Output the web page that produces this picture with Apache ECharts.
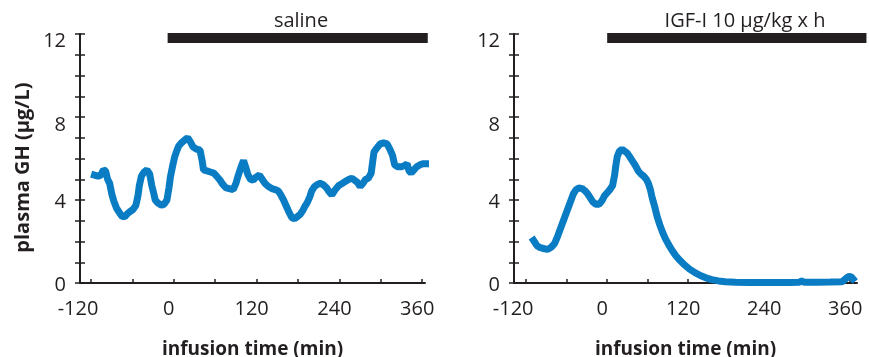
<!DOCTYPE html>
<html><head><meta charset="utf-8">
<script src="https://cdn.jsdelivr.net/npm/echarts@6/dist/echarts.min.js"></script>
<style>html,body{margin:0;padding:0;background:#fff}#c{width:869px;height:357px}</style>
</head><body><div id="c"></div>
<script>
// ---- data ----
const salineTime = [-115,-110,-106,-102,-99,-96,-93,-90,-87,-83,-79,-75,-71,-67,-63,-59,-55,-52,-50,-47,-43,-39,-35,-32,-29,-27,-23,-18,-14,-10,-7,-5,-2,1,4,7,11,16,20,24,28,33,38,41,43,48,53,58,62,67,71,75,80,86,90,93,97,101,104,107,111,115,119,124,128,132,137,142,147,151,155,159,163,167,171,175,179,183,187,190,193,197,200,204,208,212,216,221,225,229,234,239,244,249,254,258,262,266,270,274,278,282,286,288,290,294,299,304,309,313,317,320,324,329,334,338,341,344,348,352,357,362,365];
const salineGH = [5.2,5.15,5.2,5.45,5.4,5.0,4.8,4.3,3.95,3.6,3.4,3.2,3.2,3.35,3.45,3.55,3.75,4.2,4.7,5.15,5.35,5.45,5.25,4.7,4.3,4.0,3.85,3.75,3.8,4.0,4.6,5.1,5.6,6.05,6.35,6.6,6.75,6.9,7.0,6.8,6.55,6.45,6.4,5.9,5.45,5.4,5.35,5.3,5.15,4.95,4.75,4.6,4.55,4.5,4.8,5.15,5.55,5.9,5.6,5.25,5.0,4.95,5.1,5.2,5.0,4.8,4.65,4.55,4.5,4.45,4.25,4.0,3.7,3.4,3.15,3.1,3.2,3.3,3.5,3.7,3.85,4.15,4.45,4.65,4.75,4.8,4.75,4.6,4.4,4.25,4.5,4.7,4.8,4.9,5.0,5.05,4.95,4.85,4.65,4.8,5.0,5.05,5.3,5.8,6.3,6.5,6.7,6.75,6.7,6.45,6.15,5.7,5.6,5.6,5.65,5.75,5.4,5.3,5.45,5.6,5.7,5.75,5.75];
const igfTime = [-109,-104,-99,-93,-88,-83,-78,-74,-70,-66,-62,-58,-54,-50,-46,-42,-37,-33,-29,-25,-21,-17,-12,-8,-4,0,4,8,11,13,15,18,22,26,30,34,38,42,46,50,54,58,61,64,66,68,71,74,78,82,86,91,96,102,108,115,122,130,138,146,155,165,175,190,210,230,250,270,284,288,292,310,330,348,353,357,361,364];
const igfGH = [2.05,1.8,1.7,1.65,1.62,1.72,1.9,2.2,2.55,2.9,3.25,3.6,3.95,4.3,4.5,4.58,4.55,4.45,4.3,4.1,3.9,3.8,3.8,3.95,4.2,4.35,4.5,4.7,5.2,5.7,6.1,6.35,6.45,6.35,6.25,6.05,5.85,5.65,5.4,5.25,5.15,5.0,4.8,4.5,4.2,3.95,3.6,3.2,2.8,2.45,2.15,1.85,1.58,1.3,1.08,0.86,0.67,0.5,0.36,0.25,0.16,0.1,0.06,0.04,0.03,0.03,0.03,0.03,0.04,0.09,0.04,0.04,0.05,0.06,0.2,0.3,0.32,0.2];
const xTickValues = [-120,-60,0,60,120,180,240,300,360];
const xLabelValues = [-120,0,120,240,360];
const yLabelValues = [0,4,8,12];
const panelTitles = ['saline','IGF-I 10 µg/kg x h'];
const salineBar = [-9, 368];
const igfBar = [0, 384];
const barLevel = [11.57, 12.05];
const xAxisName = 'infusion time (min)';
const yAxisName = 'plasma GH (µg/L)';

// ---- chart ----
const FONT = "'Open Sans',sans-serif";
const INK = '#231f20';
const BLUE = '#0a7cc4';
const chart = echarts.init(document.getElementById('c'), null, {renderer:'canvas'});

const zip = (a,b) => a.map((t,i)=>[t,b[i]]);

function xAxis(grid, min, max) {
  return {
    type:'value', gridIndex:grid, min:min, max:max,
    name:xAxisName, nameLocation:'middle', nameGap:57,
    nameTextStyle:{fontFamily:FONT, fontSize:19, fontWeight:'bold', color:INK},
    axisLine:{show:true, onZero:false, lineStyle:{color:INK, width:2}},
    axisTick:{show:true, inside:true, length:4, customValues:xTickValues, lineStyle:{color:INK, width:1.5}},
    axisLabel:{show:true, customValues:xLabelValues, margin:16,
      fontFamily:FONT, fontSize:20, color:INK,
      formatter: v => (v === -120 ? '{f|' + v + '}' : '{n|' + v + '}'),
      rich:{
        f:{fontFamily:FONT, fontSize:20, color:INK, padding:[0,26,0,0]},
        n:{fontFamily:FONT, fontSize:20, color:INK, padding:[0,10,0,0]}
      }},
    splitLine:{show:false}
  };
}
const yShift = {0:4, 4:4, 8:16, 12:14};
function yAxisMain(grid, withName) {
  return {
    type:'value', gridIndex:grid, min:0, max:12, interval:1, position:'left',
    name: withName ? yAxisName : '', nameLocation:'middle', nameGap:47,
    nameTextStyle:{fontFamily:FONT, fontSize:20, fontWeight:'bold', color:INK, padding:[0,18,0,0]},
    axisLine:{show:true, onZero:false, lineStyle:{color:INK, width:2}},
    axisTick:{show:true, inside:false, length:5, lineStyle:{color:INK, width:1.5}},
    axisLabel:{show:true, customValues:yLabelValues, margin:14,
      fontFamily:FONT, fontSize:20, color:INK,
      formatter: v => '{s' + v + '|' + v + '}',
      rich:{
        s0:{fontFamily:FONT, fontSize:20, color:INK, padding:[yShift[0],0,0,0]},
        s4:{fontFamily:FONT, fontSize:20, color:INK, padding:[yShift[4],0,0,0]},
        s8:{fontFamily:FONT, fontSize:20, color:INK, padding:[yShift[8],0,0,0]},
        s12:{fontFamily:FONT, fontSize:20, color:INK, padding:[yShift[12],0,0,0]}
      }},
    splitLine:{show:false}
  };
}
function yAxisInner(grid) {
  return {
    type:'value', gridIndex:grid, min:0, max:12, interval:1, position:'left',
    axisLine:{show:false, onZero:false},
    axisTick:{show:true, inside:true, length:5, lineStyle:{color:INK, width:1.5}},
    axisLabel:{show:false}, splitLine:{show:false}
  };
}
function barSeries(xi, yi, span) {
  return {
    type:'custom', xAxisIndex:xi, yAxisIndex:yi, clip:false, silent:true,
    data:[[span[0], span[1], barLevel[0], barLevel[1]]],
    renderItem:(params, api) => {
      const p0 = api.coord([api.value(0), api.value(3)]);
      const p1 = api.coord([api.value(1), api.value(2)]);
      return {type:'rect', shape:{x:p0[0], y:p0[1], width:p1[0]-p0[0], height:p1[1]-p0[1]},
        style:{fill:INK}};
    }
  };
}
function lineSeries(xi, yi, t, v) {
  return {
    type:'line', xAxisIndex:xi, yAxisIndex:yi, data:zip(t,v),
    showSymbol:false, symbol:'none', clip:false,
    lineStyle:{color:BLUE, width:7, cap:'square', join:'bevel'}
  };
}

chart.setOption({
  animation:false,
  backgroundColor:'#fff',
  grid:[
    {left:80, top:34, width:345, height:249, containLabel:false, outerBoundsMode:'none'},
    {left:514, top:34, width:343, height:249, containLabel:false, outerBoundsMode:'none'}
  ],
  xAxis:[xAxis(0,-136,364), xAxis(1,-138,370)],
  yAxis:[yAxisMain(0,true), yAxisInner(0), yAxisMain(1,false), yAxisInner(1)],
  graphic:[
    {type:'text', x:301, y:21, style:{text:panelTitles[0], fontFamily:FONT, fontSize:20, fill:INK, align:'center', verticalAlign:'middle'}},
    {type:'text', x:745, y:21, style:{text:panelTitles[1], fontFamily:FONT, fontSize:20, fill:INK, align:'center', verticalAlign:'middle'}}
  ],
  series:[
    barSeries(0,0,salineBar),
    barSeries(1,2,igfBar),
    lineSeries(0,0,salineTime,salineGH),
    lineSeries(1,2,igfTime,igfGH)
  ]
});
</script>
</body></html>
